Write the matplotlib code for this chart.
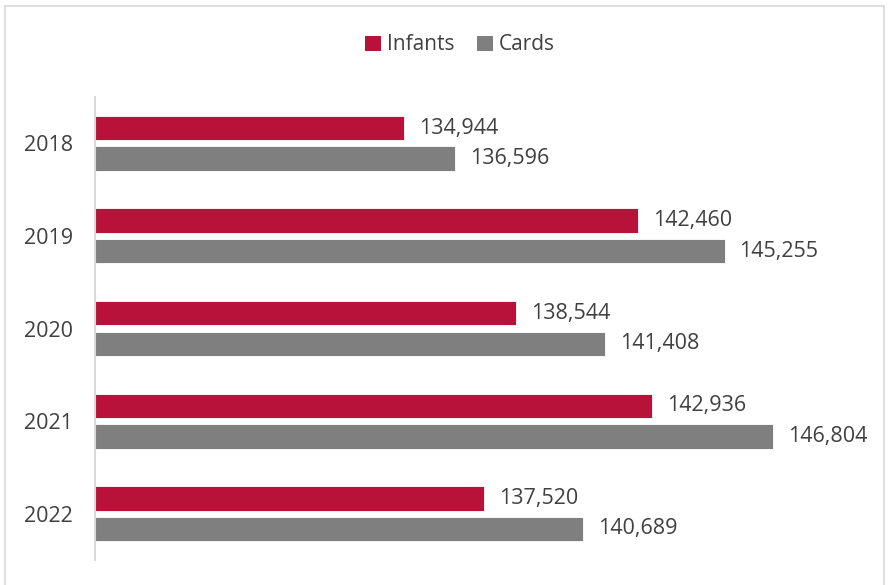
"""Horizontal grouped bar chart: Infants vs Cards by year."""

import matplotlib

matplotlib.use("Agg")
import matplotlib.pyplot as plt
import numpy as np
from matplotlib.lines import Line2D
from matplotlib.patches import Patch

years = ["2018", "2019", "2020", "2021", "2022"]
infants = [134944, 142460, 138544, 142936, 137520]
cards = [136596, 145255, 141408, 146804, 140689]

RED = "#B8123A"
GRAY = "#7F7F7F"
TEXT = "#404040"

plt.rcParams["font.family"] = ["Open Sans", "DejaVu Sans"]

fig = plt.figure(figsize=(8.89, 5.85), dpi=100)
ax = fig.add_axes([95 / 889, 25 / 585, 777 / 889, 463 / 585])

y = np.arange(len(years))
height = 0.265
offset = 0.165

bars_inf = ax.barh(y - offset, infants, height=height, left=0, color=RED,
                   edgecolor="white", linewidth=0.6)
bars_card = ax.barh(y + offset, cards, height=height, left=0, color=GRAY,
                    edgecolor="white", linewidth=0.6)

for bars, vals in ((bars_inf, infants), (bars_card, cards)):
    for bar, v in zip(bars, vals):
        ax.annotate(f"{v:,}", xy=(v, bar.get_y() + bar.get_height() / 2),
                    xytext=(15, 0), textcoords="offset pixels",
                    va="center", ha="left", fontsize=15.5, color=TEXT)

ax.set_xlim(125000, 150000)
ax.set_ylim(len(years) - 0.5, -0.5)
ax.set_yticks(y)
ax.set_yticklabels(years, fontsize=15.5, color=TEXT)
ax.tick_params(axis="y", length=0, pad=16)
ax.set_xticks([])

for side in ("top", "right", "bottom"):
    ax.spines[side].set_visible(False)
ax.spines["left"].set_color("#D9D9D9")
ax.spines["left"].set_linewidth(1.5)

handles = [Patch(facecolor=RED, label="Infants"),
           Patch(facecolor=GRAY, label="Cards")]
fig.legend(handles=handles, loc="center", bbox_to_anchor=(460 / 889, 1 - 45 / 585),
           ncol=2, frameon=False, fontsize=15, handlelength=0.75, handleheight=0.75,
           handletextpad=0.3, columnspacing=1.1, labelcolor=TEXT)

# light chart-area border
border_kw = dict(color="#D9D9D9", linewidth=1.2, transform=fig.transFigure)
fig.add_artist(Line2D([5 / 889, 884 / 889], [1 - 6 / 585, 1 - 6 / 585], **border_kw))
fig.add_artist(Line2D([5 / 889, 5 / 889], [0, 1 - 6 / 585], **border_kw))
fig.add_artist(Line2D([884 / 889, 884 / 889], [0, 1 - 6 / 585], **border_kw))

fig.savefig("out.png", dpi=100)
